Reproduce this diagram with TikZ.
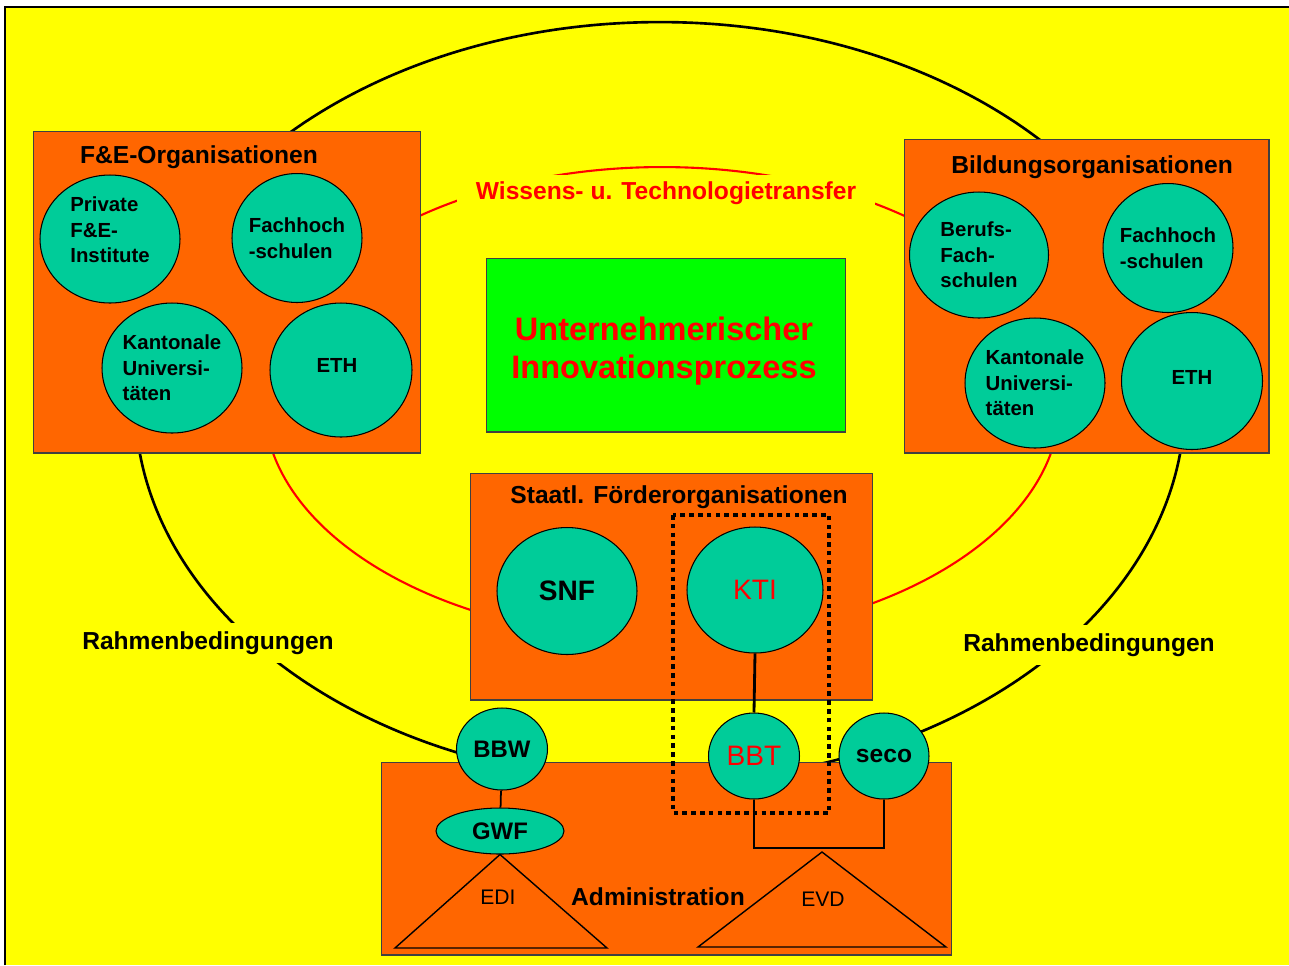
\documentclass[tikz,border=0pt]{standalone}
\usepackage{fontspec}
\setmainfont{Liberation Sans}
\usetikzlibrary{shapes.geometric}
\definecolor{bgyellow}{RGB}{255,255,0}
\definecolor{boxorange}{RGB}{255,102,0}
\definecolor{orgteal}{RGB}{0,204,153}
\definecolor{procgreen}{RGB}{0,255,0}

\begin{document}
\begin{tikzpicture}[x=0.02cm, y=-0.02cm,
  box/.style={draw=black!75, fill=boxorange, line width=0.6pt, inner sep=0pt},
  org/.style={ellipse, draw, fill=orgteal, line width=0.6pt, inner sep=0pt},
  orgtext/.style={align=left, font=\fontsize{11.6}{14.6}\selectfont\bfseries},
  title/.style={font=\fontsize{14}{16}\selectfont\bfseries},
  tag/.style={fill=bgyellow, inner sep=0pt, font=\fontsize{14}{16}\selectfont\bfseries},
  ring/.style={line width=1.5pt},
  conn/.style={line width=1.6pt}]
\useasboundingbox (0,0) rectangle (1289,965);
\fill[white] (0,0) rectangle (1289,965);
\fill[bgyellow] (5,7) rectangle (1289,965);
\draw[line width=1.2pt] (5,965) -- (5,7) -- (1289,7);

% the two rings
\draw[ring] (660,402) ellipse [x radius=10.5cm, y radius=7.6cm];
\draw[ring, red, line width=1.2pt] (662,403) ellipse [x radius=7.96cm, y radius=4.72cm];
\node[tag, minimum width=5.3cm, minimum height=0.8cm] (rahmenl) at (208,643) {Rahmenbedingungen};
\node[tag, minimum width=5.3cm, minimum height=0.8cm] (rahmenr) at (1089,645) {Rahmenbedingungen};
\node[tag, text=red, minimum width=8.36cm, minimum height=0.72cm] (transfer) at (666,193) {Wissens- u. Technologietransfer};

% boxes
\node[box, minimum width=7.76cm, minimum height=6.44cm] (fe) at (227,292) {};
\node[title] (fetitle) at (199,157) {F\&E-Organisationen};
\node[box, minimum width=7.3cm, minimum height=6.28cm] (bildung) at (1086.5,296) {};
\node[title] (bildungtitle) at (1092,167) {Bildungsorganisationen};
\node[box, minimum width=8.06cm, minimum height=4.54cm] (staat) at (671.5,586.5) {};
\node[title] (staattitle) at (679,497) {Staatl. Förderorganisationen};
\node[box, minimum width=11.42cm, minimum height=3.86cm] (admin) at (666.5,858.5) {};
\node[title] (admintitle) at (658,897) {Administration};
\node[draw=black!75, fill=procgreen, line width=0.6pt, minimum width=7.2cm, minimum height=3.48cm,
  align=center, text=red, font=\fontsize{18.5}{22}\selectfont\bfseries] (prozess) at (666,345) {};
\node[align=center, text=red, font=\fontsize{18.5}{22}\selectfont\bfseries] (prozesstext) at (664,351)
  {Unternehmerischer\\Innovationsprozess};

% F&E circles
\node[org, minimum width=2.8cm, minimum height=2.56cm, label={[orgtext, yshift=0.18cm]center:Private\\F\&E-\\Institute}] (fepriv) at (110,239) {};
\node[org, minimum width=2.6cm, minimum height=2.58cm, label={[orgtext]center:Fachhoch\\-schulen}] (fefh) at (297,238) {};
\node[org, minimum width=2.8cm, minimum height=2.6cm, label={[orgtext]center:Kantonale\\Universi-\\täten}] (feku) at (172,368) {};
\node[org, minimum width=2.84cm, minimum height=2.68cm, label={[orgtext, xshift=-0.08cm, yshift=0.1cm]center:ETH}] (feeth) at (341,370) {};

% Bildung circles
\node[org, minimum width=2.78cm, minimum height=2.52cm, label={[orgtext]center:Berufs-\\Fach-\\schulen}] (bfs) at (979,255) {};
\node[org, minimum width=2.6cm, minimum height=2.58cm, label={[orgtext]center:Fachhoch\\-schulen}] (bfh) at (1168,248) {};
\node[org, minimum width=2.8cm, minimum height=2.6cm, label={[orgtext]center:Kantonale\\Universi-\\täten}] (bku) at (1035,383) {};
\node[org, minimum width=2.82cm, minimum height=2.74cm, label={[orgtext, yshift=0.08cm]center:ETH}] (beth) at (1192,381) {};

% Foerderung
\node[org, minimum width=2.8cm, minimum height=2.54cm, font=\fontsize{16}{18}\selectfont\bfseries] (snf) at (567,591) {SNF};
\node[org, minimum width=2.72cm, minimum height=2.52cm, text=red, font=\fontsize{16}{18}\selectfont] (kti) at (755,590) {KTI};
\draw[line width=2.2pt, dash pattern=on 2.6pt off 2.4pt] (673,515) rectangle (829,813);

% administration
\coordinate (edil) at (395,948);
\coordinate (edir) at (607,948);
\coordinate (evdtop) at (822,852);
\coordinate (evdl) at (698,947);
\coordinate (evdr) at (946,947);
\coordinate (evdbar) at (822,848);
\node[org, minimum width=1.82cm, minimum height=1.64cm, font=\fontsize{13.6}{16}\selectfont\bfseries] (bbw) at (502,749) {BBW};
\node[org, minimum width=2.56cm, minimum height=0.92cm, font=\fontsize{13.6}{16}\selectfont\bfseries] (gwf) at (500,831) {GWF};
\node[org, minimum width=1.82cm, minimum height=1.72cm, text=red, font=\fontsize{16}{18}\selectfont] (bbt) at (754,756) {BBT};
\node[org, minimum width=1.8cm, minimum height=1.72cm, font=\fontsize{14}{16}\selectfont\bfseries] (seco) at (884,756) {seco};
\draw[line width=0.8pt] (gwf.south) -- (edil) -- (edir) -- cycle;
\draw[line width=0.8pt] (evdtop) -- (evdl) -- (evdr) -- cycle;
\node[font=\fontsize{12}{14}\selectfont] (edi) at (498,897) {EDI};
\node[font=\fontsize{12}{14}\selectfont] (evd) at (823,899) {EVD};
\draw[line width=1pt] (bbw) -- (gwf);
\draw[conn] (kti.south) -- (bbt.north);
\draw[conn] (bbt.south) |- (evdbar) -| (seco.south);
\end{tikzpicture}
\end{document}
